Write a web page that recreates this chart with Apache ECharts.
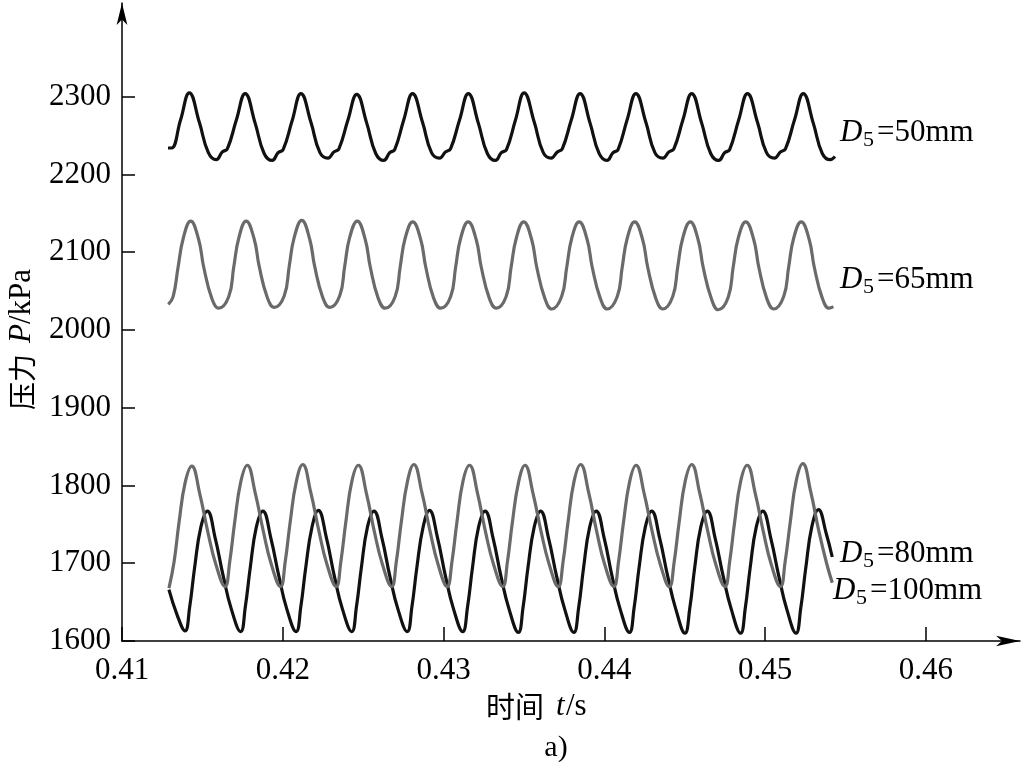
<!DOCTYPE html>
<html><head><meta charset="utf-8">
<script src="https://cdn.jsdelivr.net/npm/echarts@6/dist/echarts.min.js"></script>
<style>html,body{margin:0;padding:0;background:#fff}#c{width:1022px;height:765px}</style>
</head><body><div id="c"></div>
<script>
const X_TICKS = [0.41, 0.42, 0.43, 0.44, 0.45, 0.46];
const Y_TICKS = [1600, 1700, 1800, 1900, 2000, 2100, 2200, 2300];

const D50_T = [0.41286, 0.41308, 0.41364,
 0.41419, 0.41481, 0.41537, 0.41586, 0.41624, 0.41655, 0.41711,
 0.41766, 0.41828, 0.41884, 0.41934, 0.41971, 0.42002, 0.42058,
 0.42113, 0.42175, 0.42231, 0.42281, 0.42318, 0.42349, 0.42405,
 0.42460, 0.42522, 0.42578, 0.42628, 0.42665, 0.42696, 0.42752,
 0.42807, 0.42869, 0.42925, 0.42975, 0.43012, 0.43043, 0.43099,
 0.43154, 0.43216, 0.43272, 0.43322, 0.43359, 0.43391, 0.43447,
 0.43501, 0.43564, 0.43620, 0.43669, 0.43707, 0.43738, 0.43794,
 0.43849, 0.43911, 0.43967, 0.44016, 0.44054, 0.44085, 0.44141,
 0.44196, 0.44258, 0.44314, 0.44364, 0.44401, 0.44432, 0.44488,
 0.44543, 0.44605, 0.44661, 0.44711, 0.44748, 0.44779, 0.44835,
 0.44890, 0.44952, 0.45008, 0.45058, 0.45095, 0.45126, 0.45182,
 0.45237, 0.45299, 0.45355, 0.45405, 0.45434];
const D50_P = [2234, 2234, 2270,
 2305, 2267, 2228, 2219, 2229, 2233, 2270,
 2304, 2266, 2227, 2218, 2228, 2232, 2269,
 2304, 2267, 2228, 2221, 2229, 2233, 2270,
 2303, 2266, 2227, 2218, 2228, 2232, 2270,
 2304, 2267, 2228, 2221, 2229, 2233, 2270,
 2304, 2266, 2227, 2218, 2228, 2232, 2270,
 2305, 2267, 2228, 2221, 2229, 2233, 2270,
 2304, 2266, 2227, 2218, 2228, 2232, 2270,
 2304, 2267, 2228, 2221, 2229, 2233, 2270,
 2304, 2266, 2227, 2218, 2228, 2232, 2270,
 2304, 2267, 2228, 2221, 2229, 2233, 2270,
 2304, 2266, 2227, 2219, 2223];

const D65_T = [0.41288, 0.41318, 0.41349, 0.41381,
 0.41427, 0.41477, 0.41508, 0.41558, 0.41601, 0.41664, 0.41695, 0.41726,
 0.41772, 0.41822, 0.41853, 0.41903, 0.41947, 0.42009, 0.42040, 0.42071,
 0.42118, 0.42167, 0.42198, 0.42248, 0.42292, 0.42354, 0.42385, 0.42416,
 0.42463, 0.42513, 0.42544, 0.42593, 0.42637, 0.42699, 0.42730, 0.42761,
 0.42808, 0.42858, 0.42889, 0.42938, 0.42982, 0.43044, 0.43075, 0.43106,
 0.43153, 0.43203, 0.43234, 0.43284, 0.43327, 0.43389, 0.43420, 0.43452,
 0.43498, 0.43548, 0.43579, 0.43629, 0.43672, 0.43734, 0.43766, 0.43797,
 0.43843, 0.43893, 0.43924, 0.43974, 0.44017, 0.44080, 0.44111, 0.44142,
 0.44188, 0.44238, 0.44269, 0.44319, 0.44363, 0.44425, 0.44456, 0.44487,
 0.44534, 0.44583, 0.44614, 0.44664, 0.44708, 0.44770, 0.44801, 0.44832,
 0.44879, 0.44929, 0.44960, 0.45009, 0.45053, 0.45115, 0.45146, 0.45177,
 0.45224, 0.45274, 0.45305, 0.45355, 0.45398, 0.45424];
const D65_P = [2033, 2043, 2081, 2118,
 2140, 2116, 2081, 2041, 2028, 2043, 2081, 2118,
 2140, 2117, 2082, 2042, 2029, 2044, 2082, 2119,
 2141, 2117, 2082, 2042, 2029, 2044, 2082, 2119,
 2140, 2116, 2081, 2041, 2028, 2043, 2081, 2118,
 2139, 2116, 2081, 2041, 2028, 2043, 2081, 2118,
 2139, 2116, 2081, 2041, 2028, 2043, 2081, 2118,
 2139, 2116, 2081, 2041, 2027, 2043, 2081, 2118,
 2139, 2116, 2081, 2041, 2027, 2043, 2081, 2118,
 2139, 2116, 2081, 2041, 2027, 2043, 2081, 2118,
 2139, 2116, 2081, 2041, 2026, 2042, 2081, 2118,
 2139, 2116, 2081, 2041, 2027, 2043, 2081, 2118,
 2139, 2116, 2081, 2041, 2028, 2030];

const D80_T = [0.41292, 0.41324, 0.41355, 0.41393,
 0.41434, 0.41483, 0.41533, 0.41583, 0.41641, 0.41670, 0.41701, 0.41738,
 0.41779, 0.41829, 0.41879, 0.41928, 0.41986, 0.42015, 0.42046, 0.42084,
 0.42124, 0.42174, 0.42224, 0.42274, 0.42332, 0.42361, 0.42392, 0.42429,
 0.42470, 0.42520, 0.42569, 0.42619, 0.42677, 0.42706, 0.42737, 0.42775,
 0.42815, 0.42865, 0.42915, 0.42965, 0.43022, 0.43052, 0.43083, 0.43120,
 0.43161, 0.43211, 0.43260, 0.43310, 0.43368, 0.43397, 0.43428, 0.43466,
 0.43506, 0.43556, 0.43606, 0.43656, 0.43713, 0.43743, 0.43774, 0.43811,
 0.43852, 0.43902, 0.43951, 0.44001, 0.44059, 0.44088, 0.44119, 0.44157,
 0.44197, 0.44247, 0.44297, 0.44347, 0.44404, 0.44434, 0.44465, 0.44502,
 0.44543, 0.44592, 0.44642, 0.44692, 0.44750, 0.44779, 0.44810, 0.44847,
 0.44888, 0.44938, 0.44988, 0.45037, 0.45095, 0.45124, 0.45156, 0.45193,
 0.45234, 0.45283, 0.45333, 0.45383, 0.45417];
const D80_P = [1668, 1702, 1753, 1804,
 1825, 1790, 1741, 1699, 1670, 1702, 1753, 1804,
 1826, 1790, 1741, 1699, 1670, 1702, 1753, 1805,
 1827, 1791, 1742, 1699, 1670, 1702, 1753, 1805,
 1826, 1790, 1741, 1699, 1670, 1702, 1753, 1805,
 1827, 1791, 1742, 1699, 1670, 1702, 1753, 1805,
 1826, 1790, 1741, 1699, 1670, 1702, 1753, 1804,
 1826, 1790, 1741, 1699, 1670, 1702, 1753, 1805,
 1827, 1791, 1742, 1699, 1670, 1702, 1753, 1805,
 1826, 1790, 1741, 1699, 1670, 1702, 1753, 1805,
 1827, 1791, 1742, 1699, 1670, 1702, 1753, 1805,
 1826, 1790, 1741, 1699, 1670, 1702, 1753, 1806,
 1828, 1792, 1742, 1699, 1675];

const D100_T = [0.41292, 0.41342, 0.41392, 0.41421, 0.41452, 0.41490,
 0.41531, 0.41580, 0.41630, 0.41680, 0.41738, 0.41767, 0.41798, 0.41835,
 0.41876, 0.41926, 0.41976, 0.42025, 0.42083, 0.42112, 0.42143, 0.42181,
 0.42221, 0.42271, 0.42321, 0.42371, 0.42429, 0.42458, 0.42489, 0.42526,
 0.42567, 0.42617, 0.42666, 0.42716, 0.42774, 0.42803, 0.42834, 0.42872,
 0.42912, 0.42962, 0.43012, 0.43062, 0.43119, 0.43149, 0.43180, 0.43217,
 0.43258, 0.43308, 0.43357, 0.43407, 0.43465, 0.43494, 0.43525, 0.43563,
 0.43603, 0.43653, 0.43703, 0.43753, 0.43810, 0.43840, 0.43871, 0.43908,
 0.43949, 0.43999, 0.44048, 0.44098, 0.44156, 0.44185, 0.44216, 0.44254,
 0.44294, 0.44344, 0.44394, 0.44444, 0.44501, 0.44531, 0.44562, 0.44599,
 0.44640, 0.44689, 0.44739, 0.44789, 0.44847, 0.44876, 0.44907, 0.44944,
 0.44985, 0.45035, 0.45085, 0.45134, 0.45192, 0.45221, 0.45253, 0.45290,
 0.45331, 0.45380, 0.45417];
const D100_P = [1666, 1634, 1613, 1644, 1695, 1746,
 1767, 1732, 1683, 1641, 1612, 1644, 1695, 1746,
 1767, 1732, 1683, 1641, 1612, 1644, 1695, 1746,
 1768, 1733, 1683, 1641, 1612, 1644, 1695, 1746,
 1767, 1732, 1683, 1641, 1612, 1644, 1695, 1746,
 1768, 1733, 1683, 1641, 1612, 1644, 1695, 1746,
 1767, 1732, 1683, 1641, 1611, 1643, 1695, 1746,
 1767, 1732, 1683, 1641, 1611, 1643, 1695, 1746,
 1767, 1732, 1683, 1641, 1611, 1643, 1695, 1746,
 1767, 1732, 1683, 1641, 1610, 1642, 1695, 1746,
 1767, 1732, 1683, 1641, 1610, 1642, 1695, 1746,
 1767, 1732, 1683, 1641, 1610, 1642, 1695, 1747,
 1769, 1738, 1708];

const SERIF = '"Liberation Serif", "DejaVu Serif", serif';
const CJK = '"Noto Sans CJK SC", sans-serif';
const BLACK = '#111111';
const GRAY = '#6a6a6a';

function zip(t, p) { return t.map((v, i) => [v, p[i]]); }

function txt(x, y, s, font, align) {
  return { type: 'text', x: x, y: y, style: { text: s, font: font, fill: '#000', verticalAlign: 'middle', align: align || 'left' } };
}

function dLabel(x, y, rest) {
  return {
    type: 'group', x: x, y: y,
    children: [
      txt(0, 0, 'D', 'italic 31px ' + SERIF),
      txt(23, 7, '5', '22px ' + SERIF),
      txt(37, 0, rest, '31px ' + SERIF)
    ]
  };
}

const chart = echarts.init(document.getElementById('c'), null, { renderer: 'canvas' });
const lineSeries = (name, t, p, color) => ({
  name: name, type: 'line', data: zip(t, p), showSymbol: false, smooth: 0.45,
  lineStyle: { color: color, width: 3.2 }, itemStyle: { color: color }, z: 3
});

chart.setOption({
  animation: false,
  backgroundColor: '#fff',
  grid: { left: 122, right: 2, top: 3, bottom: 124 },
  xAxis: {
    type: 'value', min: 0.41, max: 0.465846,
    axisLine: { show: true, onZero: false, symbol: ['none', 'arrow'], symbolSize: [8, 24], lineStyle: { color: '#000', width: 1.5 } },
    axisTick: { show: true, inside: true, length: 14, customValues: X_TICKS, lineStyle: { color: '#000', width: 1.5 } },
    axisLabel: { customValues: X_TICKS, formatter: v => v.toFixed(2), fontFamily: SERIF, fontSize: 31, color: '#000', margin: 14 },
    splitLine: { show: false }
  },
  yAxis: {
    type: 'value', min: 1600, max: 2420.5,
    axisLine: { show: true, onZero: false, symbol: ['none', 'arrow'], symbolSize: [8, 22], lineStyle: { color: '#000', width: 1.5 } },
    axisTick: { show: true, inside: true, length: 13, customValues: Y_TICKS, lineStyle: { color: '#000', width: 1.5 } },
    axisLabel: { customValues: Y_TICKS, formatter: v => String(Math.round(v)), fontFamily: SERIF, fontSize: 31, color: '#000', margin: 11 },
    splitLine: { show: false }
  },
  series: [
    lineSeries('D5=50mm', D50_T, D50_P, BLACK),
    lineSeries('D5=65mm', D65_T, D65_P, GRAY),
    lineSeries('D5=100mm', D100_T, D100_P, BLACK),
    lineSeries('D5=80mm', D80_T, D80_P, GRAY)
  ],
  graphic: [
    dLabel(840, 133, '=50mm'),
    dLabel(840, 280, '=65mm'),
    dLabel(840, 554, '=80mm'),
    dLabel(833, 591, '=100mm'),
    txt(486, 707, '时间', '29px ' + CJK),
    txt(556, 707, 't', 'italic 31px ' + SERIF),
    txt(566, 707, '/s', '31px ' + SERIF),
    txt(556, 748, 'a)', '30px ' + SERIF, 'center'),
    {
      type: 'group', x: 22, y: 330, rotation: Math.PI / 2,
      children: [
        txt(-80, 0, '压力', '28px ' + CJK),
        txt(-13, 0, 'P', 'italic 31px ' + SERIF),
        txt(6, 0, '/kPa', '31px ' + SERIF)
      ]
    }
  ]
});
</script></body></html>
